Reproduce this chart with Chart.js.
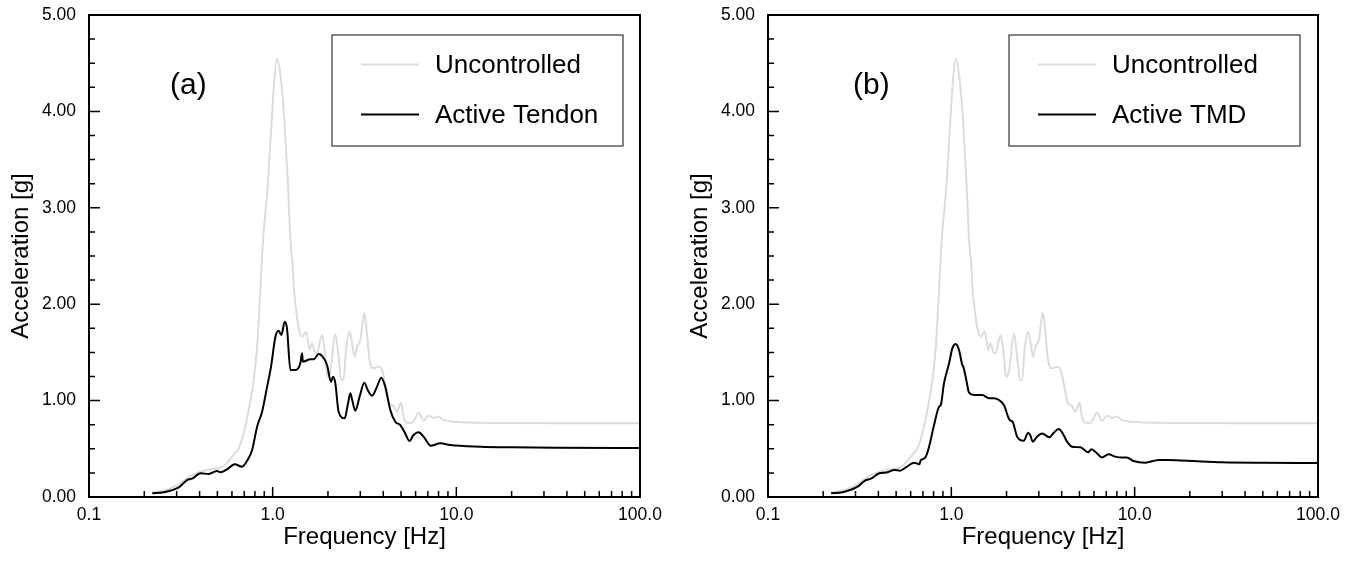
<!DOCTYPE html>
<html>
<head>
<meta charset="utf-8">
<script src="https://cdn.jsdelivr.net/npm/chart.js@4.4.1/dist/chart.umd.min.js"></script>
<style>
html,body{margin:0;padding:0;background:#fff;}
#wrap{position:relative;width:1358px;height:564px;overflow:hidden;}
.cv{position:absolute;top:0;}
</style>
</head>
<body>
<div id="wrap">
<canvas id="ca" class="cv" width="680" height="564" style="left:0px;width:680px;height:564px"></canvas>
<canvas id="cb" class="cv" width="679" height="564" style="left:679px;width:679px;height:564px"></canvas>
</div>
<script>
// ---------------- data ----------------
const freqUncontrolled = [0.22,0.26,0.30,0.357,0.44,0.54,0.614,0.653,0.695,0.74,0.788,0.823,0.857,0.868,0.887,0.939,0.988,1.021,1.057,1.11,1.158,1.213,1.249,1.291,1.30,1.346,1.387,1.445,1.525,1.59,1.638,1.708,1.75,1.857,1.918,1.992,2.06,2.194,2.285,2.364,2.43,2.508,2.624,2.69,2.793,2.879,3.0,3.155,3.26,3.37,3.54,3.77,3.94,4.10,4.33,4.55,4.75,5.0,5.16,5.39,5.75,6.23,6.63,7.06,7.52,7.95,8.5,9.66,13.5,20,40,100];
const accUncontrolled  = [0.05,0.07,0.12,0.22,0.28,0.32,0.44,0.505,0.66,0.90,1.21,1.56,2.15,2.355,2.67,3.22,3.91,4.33,4.55,4.33,3.91,3.22,2.67,2.355,2.217,1.92,1.75,1.663,1.715,1.525,1.594,1.49,1.50,1.68,1.525,1.248,1.30,1.69,1.456,1.214,1.214,1.525,1.715,1.63,1.456,1.56,1.63,1.91,1.70,1.42,1.335,1.35,1.32,1.18,0.97,0.945,0.885,0.979,0.833,0.771,0.771,0.875,0.792,0.844,0.82,0.835,0.80,0.78,0.77,0.767,0.765,0.765];

const freqTendon = [0.221,0.255,0.308,0.342,0.364,0.405,0.449,0.498,0.519,0.565,0.621,0.681,0.726,0.773,0.823,0.876,0.933,0.98,1.035,1.078,1.115,1.163,1.197,1.249,1.33,1.415,1.445,1.46,1.604,1.671,1.779,1.857,1.977,2.078,2.132,2.194,2.285,2.466,2.572,2.648,2.71,2.818,2.974,3.155,3.29,3.473,3.7,3.9,4.1,4.37,4.65,4.95,5.27,5.56,5.85,6.23,6.63,7.28,8.17,9.27,13.5,20,35,100];
const accTendon  = [0.038,0.049,0.10,0.176,0.19,0.246,0.239,0.27,0.256,0.287,0.339,0.315,0.377,0.488,0.73,0.885,1.145,1.352,1.663,1.725,1.68,1.819,1.75,1.317,1.317,1.387,1.49,1.404,1.428,1.428,1.483,1.463,1.369,1.196,1.248,1.179,0.885,0.816,0.972,1.075,1.006,0.896,1.041,1.186,1.11,1.051,1.145,1.238,1.145,0.902,0.781,0.747,0.66,0.581,0.643,0.671,0.626,0.532,0.557,0.539,0.522,0.515,0.51,0.508];

const freqTMD = [0.221,0.255,0.308,0.338,0.364,0.405,0.44,0.49,0.525,0.565,0.626,0.67,0.68,0.72,0.756,0.805,0.857,0.876,0.912,0.972,1.013,1.057,1.101,1.148,1.163,1.207,1.249,1.33,1.474,1.604,1.708,1.818,1.935,2.078,2.16,2.285,2.486,2.624,2.69,2.783,2.93,3.127,3.43,3.62,3.855,4.05,4.28,4.55,5.06,5.27,5.56,5.81,6.1,6.63,7.21,7.84,8.5,9.05,9.86,11.4,13.5,15,18,22,30,50,100];
const accTMD  = [0.038,0.049,0.107,0.17,0.19,0.246,0.253,0.28,0.273,0.307,0.356,0.34,0.38,0.408,0.522,0.747,0.937,0.955,1.18,1.387,1.542,1.587,1.525,1.369,1.35,1.214,1.082,1.058,1.058,1.024,1.024,1.006,0.954,0.80,0.78,0.626,0.584,0.667,0.643,0.574,0.626,0.66,0.619,0.667,0.705,0.66,0.574,0.522,0.515,0.495,0.463,0.495,0.47,0.411,0.443,0.419,0.409,0.409,0.373,0.356,0.384,0.385,0.378,0.37,0.36,0.355,0.353];

const xMajorTicks = [0.1, 1, 10, 100];
const xTickLabels = ['0.1', '1.0', '10.0', '100.0'];
const xMinorTicks = [0.2,0.3,0.4,0.5,0.6,0.7,0.8,0.9,2,3,4,5,6,7,8,9,20,30,40,50,60,70,80,90];
const yMajorTicks = [0, 1, 2, 3, 4, 5];
const yTickLabels = ['0.00', '1.00', '2.00', '3.00', '4.00', '5.00'];
const yMinorTicks = [0.25,0.5,0.75,1.25,1.5,1.75,2.25,2.5,2.75,3.25,3.5,3.75,4.25,4.5,4.75];

const xTitle = 'Frequency [Hz]';
const yTitle = 'Acceleration [g]';

// ---------------- drawing ----------------
const FONT = '"Liberation Sans", Arial, Helvetica, sans-serif';
Chart.defaults.font.family = FONT;
Chart.defaults.color = '#000';

const toPoints = (fs, vs) => fs.map((f, i) => ({x: f, y: vs[i]}));

const panelDecor = {
  id: 'panelDecor',
  afterDatasetsDraw(chart, args, o) {
    const {ctx, chartArea: a, scales: {x, y}} = chart;
    ctx.save();
    // inward ticks
    ctx.strokeStyle = '#000';
    ctx.lineWidth = 1.5;
    ctx.beginPath();
    x.ticks.forEach(t => {
      const px = x.getPixelForValue(t.value);
      const len = xMajorTicks.includes(t.value) ? 10 : 6;
      ctx.moveTo(px, a.bottom);
      ctx.lineTo(px, a.bottom - len);
    });
    y.ticks.forEach(t => {
      const py = y.getPixelForValue(t.value);
      const len = yMajorTicks.includes(t.value) ? 11 : 6;
      ctx.moveTo(a.left, py);
      ctx.lineTo(a.left + len, py);
    });
    ctx.stroke();
    // frame
    ctx.lineWidth = 2;
    ctx.strokeRect(a.left, a.top, a.right - a.left, a.bottom - a.top);
    // panel label
    ctx.fillStyle = '#000';
    ctx.font = '30px ' + FONT;
    ctx.textAlign = 'left';
    ctx.textBaseline = 'middle';
    ctx.fillText(o.panelLabel, a.left + o.labelDx, a.top + 71);
    // legend box
    const bx = a.left + o.legendDx, by = a.top + 20, bw = 291, bh = 111;
    ctx.lineWidth = 1.2;
    ctx.strokeStyle = '#333';
    ctx.strokeRect(bx, by, bw, bh);
    ctx.font = '26px ' + FONT;
    chart.data.datasets.forEach((ds, i) => {
      const ly = by + 29.5 + i * 50;
      ctx.strokeStyle = ds.borderColor;
      ctx.lineWidth = ds.borderWidth;
      ctx.beginPath();
      ctx.moveTo(bx + 29, ly);
      ctx.lineTo(bx + 87, ly);
      ctx.stroke();
      ctx.fillStyle = '#000';
      ctx.fillText(ds.label, bx + 103, ly + 1);
    });
    ctx.restore();
  }
};

function makeChart(id, ctrlLabel, ctrlF, ctrlV, panelLabel, labelDx, legendDx) {
  return new Chart(document.getElementById(id), {
    type: 'line',
    data: {
      datasets: [
        {label: 'Uncontrolled', data: toPoints(freqUncontrolled, accUncontrolled),
         borderColor: '#dcdcdc', borderWidth: 2, pointRadius: 0, order: 1,
         cubicInterpolationMode: 'monotone', fill: false},
        {label: ctrlLabel, data: toPoints(ctrlF, ctrlV),
         borderColor: '#000000', borderWidth: 2, pointRadius: 0, order: 0,
         cubicInterpolationMode: 'monotone', fill: false}
      ]
    },
    options: {
      responsive: false,
      animation: false,
      devicePixelRatio: 1,
      layout: {padding: {top: 15, right: 40, left: 0, bottom: 0}},
      plugins: {
        legend: {display: false},
        tooltip: {enabled: false},
        panelDecor: {panelLabel, labelDx, legendDx}
      },
      scales: {
        x: {
          type: 'logarithmic', min: 0.1, max: 100, position: 'bottom',
          afterBuildTicks: s => { s.ticks = [...xMajorTicks, ...xMinorTicks].sort((p, q) => p - q).map(v => ({value: v})); },
          afterFit: s => { s.height = 67; s.paddingLeft = 0; s.paddingRight = 0; },
          grid: {display: false, drawTicks: false},
          border: {display: false},
          ticks: {
            autoSkip: false, maxRotation: 0, minRotation: 0, padding: 8,
            font: {size: 17.5}, color: '#000',
            callback: v => { const i = xMajorTicks.indexOf(v); return i >= 0 ? xTickLabels[i] : ''; }
          },
          title: {display: true, text: xTitle, font: {size: 24}, color: '#000', padding: {top: 0, bottom: 12}}
        },
        y: {
          type: 'linear', min: 0, max: 5, position: 'left',
          afterBuildTicks: s => { s.ticks = [...yMajorTicks, ...yMinorTicks].sort((p, q) => p - q).map(v => ({value: v})); },
          afterFit: s => { s.width = 89; s.paddingTop = 0; s.paddingBottom = 0; },
          grid: {display: false, drawTicks: false},
          border: {display: false},
          ticks: {
            autoSkip: false, padding: 13, font: {size: 17.5}, color: '#000',
            callback: v => { const i = yMajorTicks.indexOf(v); return i >= 0 ? yTickLabels[i] : ''; }
          },
          title: {display: true, text: yTitle, font: {size: 24}, color: '#000', padding: {top: 7, bottom: 0}}
        }
      }
    },
    plugins: [panelDecor]
  });
}

makeChart('ca', 'Active Tendon', freqTendon, accTendon, '(a)', 81, 243);
makeChart('cb', 'Active TMD', freqTMD, accTMD, '(b)', 85, 241);
</script>
</body>
</html>
